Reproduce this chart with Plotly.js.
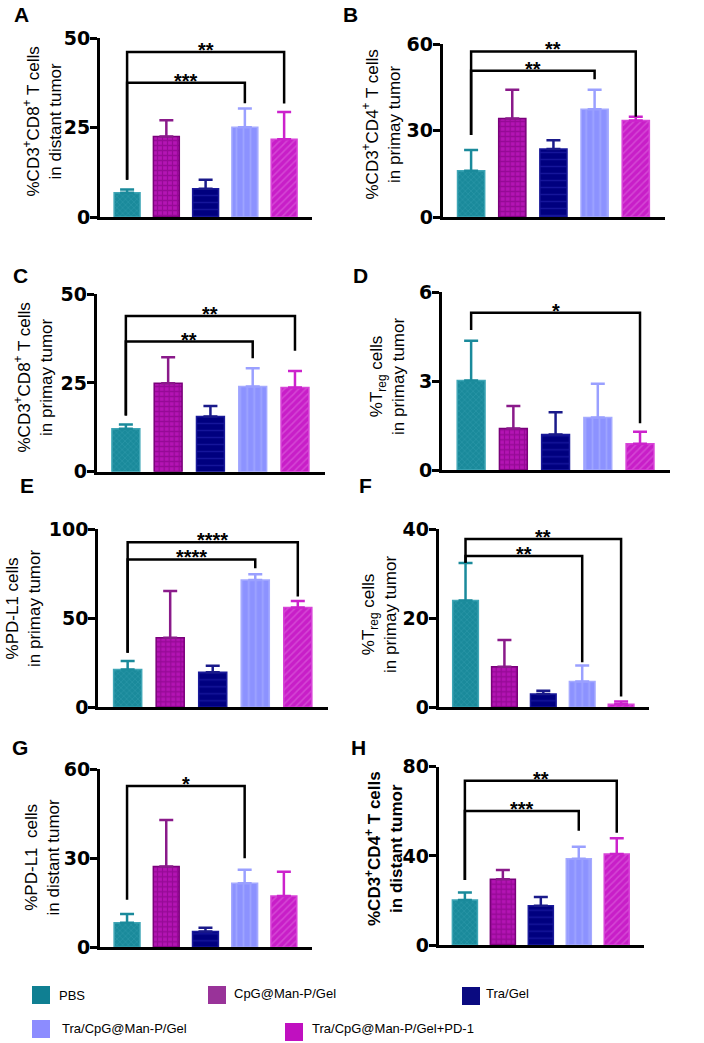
<!DOCTYPE html>
<html>
<head>
<meta charset="utf-8">
<script src="https://cdn.plot.ly/plotly-3.0.1.min.js"></script>
<style>html,body{margin:0;padding:0;background:#fff;}#chart{width:704px;height:1043px;}</style>
</head>
<body>
<div id="chart"></div>
<script>
// ---------- DATA ----------
const groups = ['PBS', 'CpG@Man-P/Gel', 'Tra/Gel', 'Tra/CpG@Man-P/Gel', 'Tra/CpG@Man-P/Gel+PD-1'];

const meanA = [6.8, 22.5, 7.9, 25.1, 21.7];
const errA  = [0.9, 4.5, 2.5, 5.2, 7.6];
const meanB = [16.0, 34.2, 23.6, 37.4, 33.5];
const errB  = [7.2, 9.9, 3.0, 6.7, 1.3];
const meanC = [12.1, 24.9, 15.5, 24.0, 23.7];
const errC  = [1.2, 7.3, 3.0, 5.1, 4.6];
const meanD = [3.02, 1.40, 1.20, 1.77, 0.89];
const errD  = [1.34, 0.76, 0.75, 1.14, 0.40];
const meanE = [21.3, 39.1, 19.7, 71.5, 56.0];
const errE  = [4.7, 26.3, 3.7, 3.2, 3.7];
const meanF = [24.0, 9.1, 3.0, 5.8, 0.7];
const errF  = [8.4, 6.0, 0.7, 3.6, 0.6];
const meanG = [8.3, 27.2, 5.3, 21.6, 17.3];
const errG  = [2.9, 15.7, 1.3, 4.5, 8.2];
const meanH = [20.2, 29.5, 17.6, 38.7, 40.8];
const errH  = [3.3, 4.1, 3.9, 5.4, 7.1];

const ticksA = [0, 25, 50];
const ticksB = [0, 30, 60];
const ticksC = [0, 25, 50];
const ticksD = [0, 3, 6];
const ticksE = [0, 50, 100];
const ticksF = [0, 20, 40];
const ticksG = [0, 30, 60];
const ticksH = [0, 40, 80];

// significance: [group from, group to, bracket height, left leg end, right leg end, label]
const sigA = [[0, 4, 46.1, 10.4, 31.7, '**'], [0, 3, 37.5, 10.4, 31.8, '***']];
const sigB = [[0, 4, 57.4, 28.4, 34.8, '**'], [0, 3, 50.7, 28.4, 47.8, '**']];
const sigC = [[0, 4, 43.8, 15.8, 34.0, '**'], [0, 3, 36.6, 15.8, 31.9, '**']];
const sigD = [[0, 4, 5.31, 4.73, 1.58, '*']];
const sigE = [[0, 4, 92.7, 30.7, 62.2, '****'], [0, 3, 83.1, 30.7, 78.1, '****']];
const sigF = [[0, 4, 37.8, 32.5, 2.4, '**'], [0, 3, 34.0, 32.5, 10.1, '**']];
const sigG = [[0, 3, 54.4, 16.0, 30.0, '*']];
const sigH = [[0, 4, 73.7, 29.2, 50.4, '**'], [0, 3, 60.1, 29.2, 51.3, '***']];

const titleA = '%CD3<sup>+</sup>CD8<sup>+</sup> T cells<br>in distant tumor';
const titleB = '%CD3<sup>+</sup>CD4<sup>+</sup> T cells<br>in primay tumor';
const titleC = '%CD3<sup>+</sup>CD8<sup>+</sup> T cells<br>in primay tumor';
const titleD = '%T<sub>reg</sub> cells<br>in primay tumor';
const titleE = '%PD-L1 cells<br>in primay tumor';
const titleF = '%T<sub>reg</sub> cells<br>in primay tumor';
const titleG = '%PD-L1  cells<br>in distant tumor';
const titleH = '<b>%CD3<sup>+</sup>CD4<sup>+</sup> T cells<br>in distant tumor</b>';

// ---------- STYLE / LAYOUT ----------
const W = 704, H = 1043;
const FONT = 'Liberation Sans, Arial, Helvetica, sans-serif';
const TICKFONT = 'DejaVu Sans, Liberation Sans, Arial, sans-serif';
const legendColors = ['#0f7f92', '#993399', '#0a0a80', '#8c8cff', '#c010c0'];
const barStyle = [
  {color: '#1a8a9b', line: '#3fa6b6', shape: 'x', fg: '#3ba3b3', size: 4, sol: 0.3, err: '#1a8a9b'},
  {color: '#b414b4', line: '#7a007a', shape: '+', fg: '#780078', size: 5, sol: 0.45, err: '#8a1a8a'},
  {color: '#00007f', line: '#1a1a9a', shape: '-', fg: '#2a2ab5', size: 7, sol: 0.2, err: '#1a1a8a'},
  {color: '#8c92ff', line: '#a5aaff', shape: '|', fg: '#b0b6ff', size: 7, sol: 0.25, err: '#9aa0ff'},
  {color: '#c81ec8', line: '#d844d8', shape: '/', fg: '#e070e0', size: 5, sol: 0.3, err: '#cc22cc'}
];

// pixel boxes: [left, right, top, bottom], title center, letter center
const panels = [
  {L: 'A', mean: meanA, err: errA, ticks: ticksA, sig: sigA, title: titleA, box: [100, 312, 38, 217], tpos: [42.5, 122], lpos: [21, 15]},
  {L: 'B', mean: meanB, err: errB, ticks: ticksB, sig: sigB, title: titleB, box: [442.7, 665, 44, 217], tpos: [381.5, 125], lpos: [350, 15]},
  {L: 'C', mean: meanC, err: errC, ticks: ticksC, sig: sigC, title: titleC, box: [96.7, 325, 294, 471.7], tpos: [33.5, 378], lpos: [20, 275]},
  {L: 'D', mean: meanD, err: errD, ticks: ticksD, sig: sigD, title: titleD, box: [442, 670, 292.3, 470], tpos: [387, 377], lpos: [360, 275]},
  {L: 'E', mean: meanE, err: errE, ticks: ticksE, sig: sigE, title: titleE, box: [98.3, 328, 529.3, 707.3], tpos: [23, 609], lpos: [27, 485]},
  {L: 'F', mean: meanF, err: errF, ticks: ticksF, sig: sigF, title: titleF, box: [438.7, 648.7, 529.3, 707.3], tpos: [379, 615], lpos: [365, 485]},
  {L: 'G', mean: meanG, err: errG, ticks: ticksG, sig: sigG, title: titleG, box: [100, 311.7, 769.3, 947.3], tpos: [41.5, 857], lpos: [20, 747]},
  {L: 'H', mean: meanH, err: errH, ticks: ticksH, sig: sigH, title: titleH, box: [438.7, 643.7, 766.7, 945], tpos: [384, 849], lpos: [358, 747]}
];

// legend placement: [square left, square top, text left, text center y]
const legendPos = [[32, 986, 57, 995], [208, 986, 232, 993], [462, 987, 484, 993], [32, 1020, 60, 1028], [285, 1023, 310, 1028]];

const px = x => x / W;
const py = y => 1 - y / H;

const traces = [];
const layout = {
  width: W, height: H,
  margin: {l: 0, r: 0, t: 0, b: 0},
  paper_bgcolor: '#fff', plot_bgcolor: 'rgba(0,0,0,0)',
  showlegend: false,
  barmode: 'overlay',
  font: {family: FONT, color: '#000'},
  shapes: [], annotations: []
};

panels.forEach((p, k) => {
  const n = k + 1;
  const xa = n === 1 ? 'x' : 'x' + n;
  const ya = n === 1 ? 'y' : 'y' + n;
  const ymax = p.ticks[p.ticks.length - 1];
  groups.forEach((g, i) => {
    const s = barStyle[i];
    traces.push({
      type: 'bar', name: g, x: [i], y: [p.mean[i]], width: 0.66,
      xaxis: xa, yaxis: ya, showlegend: false,
      marker: {color: s.color, line: {color: s.line, width: 1.5},
        pattern: {shape: s.shape, fgcolor: s.fg, bgcolor: s.color, size: s.size, solidity: s.sol, fillmode: 'overlay'}},
      error_y: {type: 'data', symmetric: false, array: [p.err[i]], arrayminus: [0], color: s.err, thickness: 2.5, width: 7},
      hovertemplate: g + ': %{y}<extra></extra>'
    });
  });
  layout['xaxis' + (n === 1 ? '' : n)] = {
    domain: [px(p.box[0]), px(p.box[1])], anchor: ya, range: [-0.69, 4.71],
    showline: true, linewidth: 3, linecolor: '#000', ticks: '', showticklabels: false,
    showgrid: false, zeroline: false, fixedrange: true
  };
  layout['yaxis' + (n === 1 ? '' : n)] = {
    domain: [py(p.box[3]), py(p.box[2])], anchor: xa, range: [0, ymax],
    showline: true, linewidth: 3, linecolor: '#000',
    ticks: 'outside', ticklen: 7, tickwidth: 3, tickcolor: '#000',
    ticklabelstandoff: -4,
    tickvals: p.ticks, ticktext: p.ticks.map(v => '<b>' + v + '</b>'),
    tickfont: {family: TICKFONT, size: 19, weight: 'bold', color: '#000'},
    showgrid: false, zeroline: false, fixedrange: true
  };
  p.sig.forEach(s => {
    const [a, b, h, la, lb, lab] = s;
    layout.shapes.push({
      type: 'path', xref: xa, yref: ya,
      path: `M ${a},${la} L ${a},${h} L ${b},${h} L ${b},${lb}`,
      line: {color: '#000', width: 2.5}
    });
    layout.annotations.push({
      xref: xa, yref: ya, x: (a + b) / 2, y: h, text: '<b>' + lab + '</b>', showarrow: false,
      xanchor: 'center', yanchor: 'middle', yshift: 2,
      font: {family: FONT, size: 20, weight: 'bold', color: '#000'}
    });
  });
  layout.annotations.push({
    xref: 'paper', yref: 'paper', x: px(p.tpos[0]), y: py(p.tpos[1]), text: p.title,
    textangle: -90, showarrow: false, xanchor: 'center', yanchor: 'middle',
    font: {family: FONT, size: 17, color: '#000'}
  });
  layout.annotations.push({
    xref: 'paper', yref: 'paper', x: px(p.lpos[0]), y: py(p.lpos[1]), text: '<b>' + p.L + '</b>',
    showarrow: false, xanchor: 'center', yanchor: 'middle',
    font: {family: FONT, size: 21, weight: 'bold', color: '#000'}
  });
});

groups.forEach((g, i) => {
  const [sx, sy, tx, ty] = legendPos[i];
  layout.shapes.push({
    type: 'rect', xref: 'paper', yref: 'paper',
    x0: px(sx), x1: px(sx + 18), y0: py(sy + 18), y1: py(sy),
    fillcolor: legendColors[i], line: {width: 0}
  });
  layout.annotations.push({
    xref: 'paper', yref: 'paper', x: px(tx), y: py(ty), text: g, showarrow: false,
    xanchor: 'left', yanchor: 'middle', font: {family: FONT, size: 13, color: '#000'}
  });
});

Plotly.newPlot('chart', traces, layout, {displayModeBar: false, staticPlot: true});
</script>
</body>
</html>
